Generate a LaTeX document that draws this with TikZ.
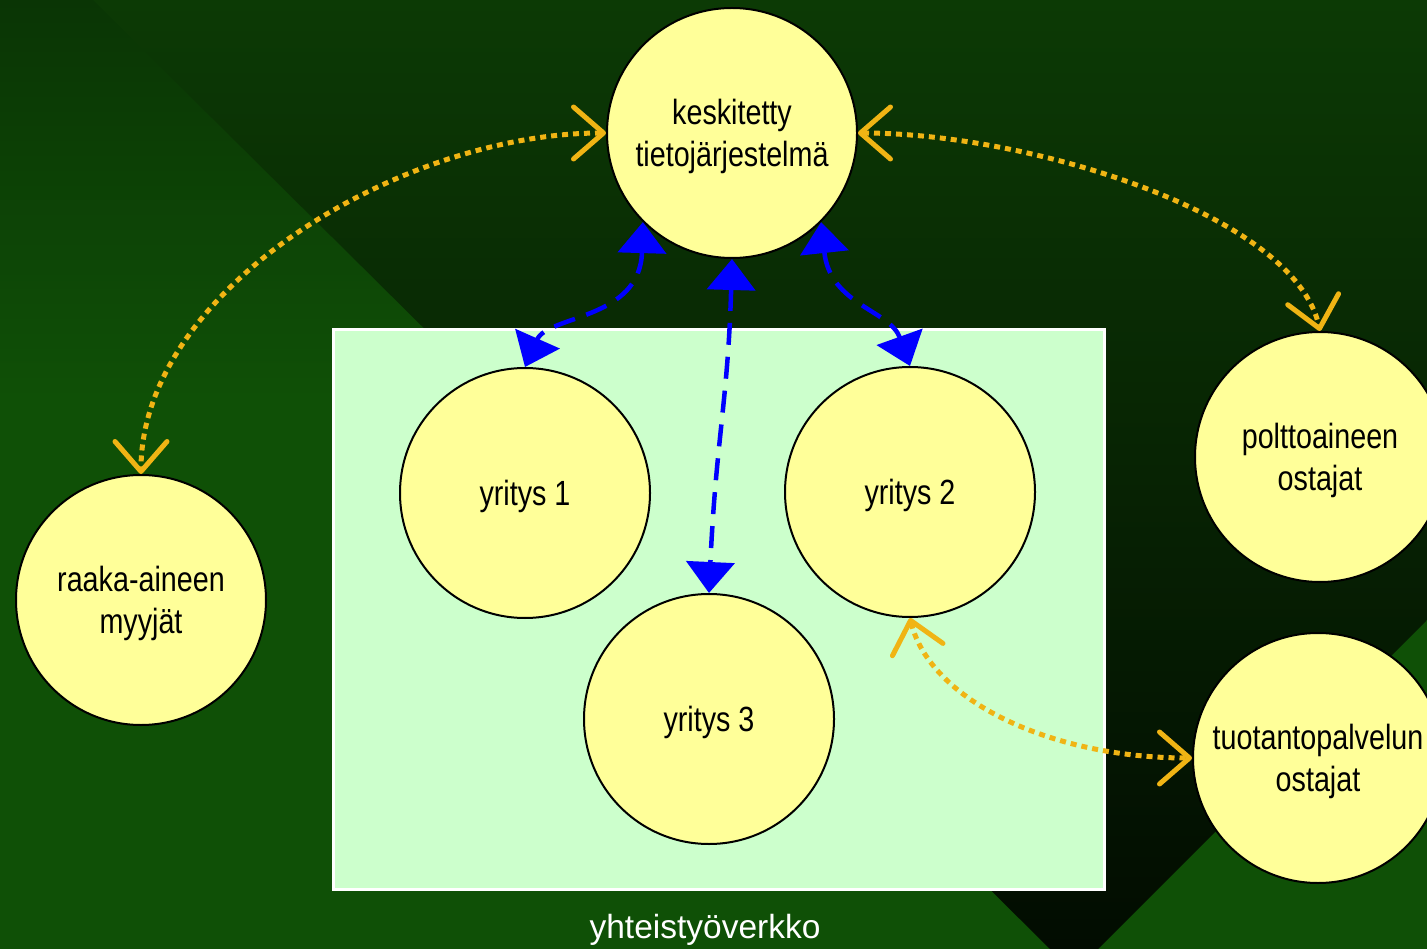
\documentclass[tikz,border=0pt]{standalone}
\usepackage{fontspec}
\setmainfont{Liberation Sans}
\newfontfamily\narrowfont{Liberation Sans}[FakeStretch=0.82]
\usetikzlibrary{arrows.meta}

\definecolor{basetop}{HTML}{0A3505}
\definecolor{basegreen}{HTML}{0F5006}
\definecolor{darktop}{HTML}{0C3A05}
\definecolor{darkbottom}{HTML}{020C01}
\definecolor{bubblefill}{HTML}{FFFF99}
\definecolor{netfill}{HTML}{CCFFCC}
\definecolor{flowamber}{HTML}{F0B414}
\definecolor{linkblue}{HTML}{0000FF}

\begin{document}
\begin{tikzpicture}[x=1pt,y=-1pt,
  bubble/.style={circle,draw=black,line width=2pt,fill=bubblefill,
    minimum size=250pt,inner sep=0pt,align=center,text=black,text depth=0pt,
    font=\narrowfont\fontsize{35}{42}\selectfont},
  netbox/.style={draw=white,line width=3pt,fill=netfill,
    minimum width=771pt,minimum height=559pt,inner sep=0pt},
  flow/.style={draw=flowamber,line width=5pt,dash pattern=on 6pt off 5pt,
    >={Straight Barb[length=30pt,width=52pt,round]},<->},
  link/.style={draw=linkblue,line width=4.5pt,dash pattern=on 22pt off 12pt,
    >={Triangle[length=31pt,width=48pt]},<->}
]
\useasboundingbox (0,0) rectangle (1427,949);

% background: green field with a dark diagonal wedge
\shade[top color=basetop,bottom color=basegreen] (0,0) rectangle (1427,400);
\fill[basegreen] (0,399) rectangle (1427,949);
\shade[top color=darktop,bottom color=darkbottom]
  (93,0) -- (1427,0) -- (1427,620) -- (1098,949) -- (1050,949) -- cycle;

% cooperation network area
\node[netbox] (verkko) at (718.5,609.5) {};
\node[text=white,font=\fontsize{33.5}{40}\selectfont] (caption) at (705,930) {yhteistyöverkko};

% actors
\node[bubble] (k) at (732,133) {keskitetty\\tietojärjestelmä};
\node[bubble] (y1) at (525,493) {yritys 1};
\node[bubble] (y2) at (910,492) {yritys 2};
\node[bubble] (y3) at (709,719) {yritys 3};
\node[bubble] (raaka) at (141,600) {raaka-aineen\\myyjät};
\node[bubble] (polt) at (1320,457) {polttoaineen\\ostajat};
\node[bubble] (tuot) at (1318,758) {tuotantopalvelun\\ostajat};

% material and service flows
\draw[flow] (k.west) .. controls (400,133) and (141,290) .. (raaka.north);
\draw[flow] (k.east) .. controls (1030,133) and (1295,215) .. (polt.north);
\draw[flow] (y2.south) .. controls (930,700) and (1050,758) .. (tuot.west);

% information links to the central system
\draw[link] (k.225) .. controls (640,320) and (548,315) .. (y1.north);
\draw[link] (k.south) .. controls (728,400) and (716,440) .. (y3.north);
\draw[link] (k.315) .. controls (830,305) and (890,310) .. (y2.north);
\end{tikzpicture}
\end{document}
